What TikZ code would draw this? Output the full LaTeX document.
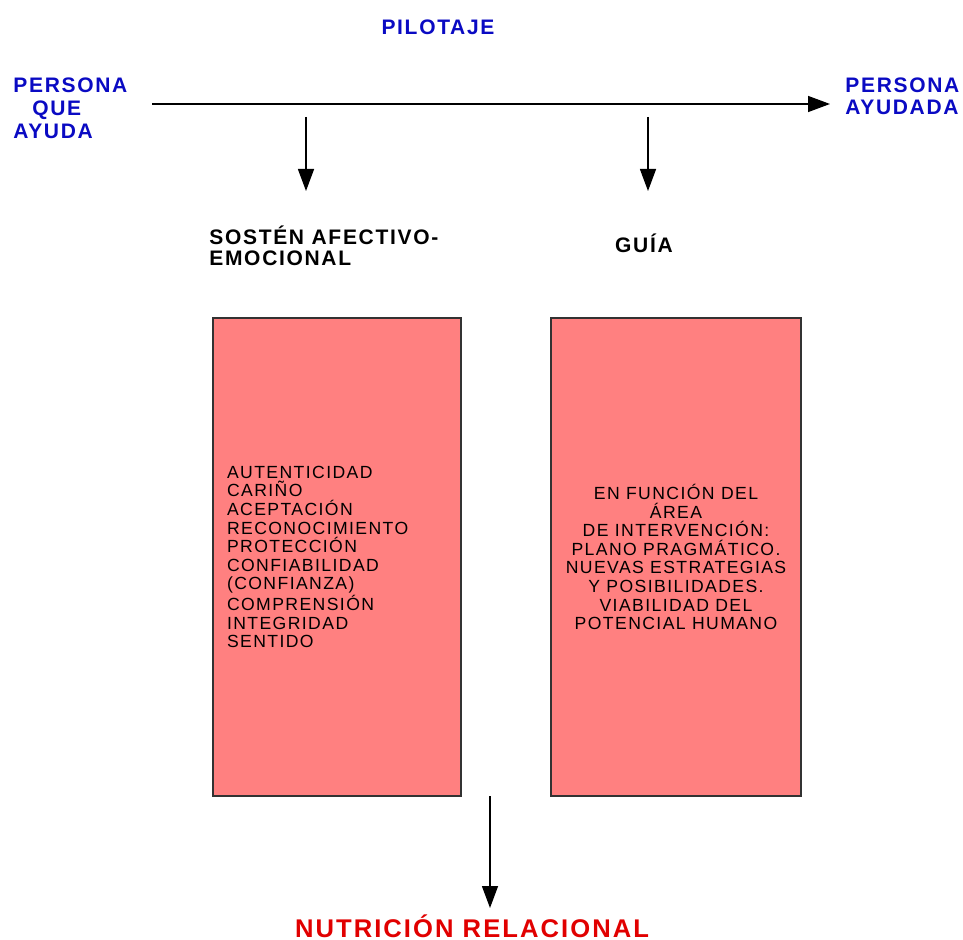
\documentclass[tikz,border=0pt]{standalone}
\usepackage{fontspec}
\setmainfont{Liberation Sans}[LetterSpace=8]
\usetikzlibrary{arrows.meta,positioning}

\definecolor{azul}{RGB}{10,10,195}
\definecolor{rojo}{RGB}{225,0,0}
\definecolor{rosa}{RGB}{255,128,128}
\definecolor{borde}{RGB}{50,50,50}

\begin{document}
\begin{tikzpicture}[
  x=0.5pt, y=-0.5pt,
  titulo/.style={font=\fontsize{10.5}{11.5}\selectfont\bfseries, text=azul, inner sep=0pt},
  rama/.style={font=\fontsize{10.5}{10.5}\selectfont\bfseries, inner sep=0pt},
  caja/.style={draw=borde, line width=0.6pt, fill=rosa, minimum width=124pt,
               minimum height=239pt, font=\fontsize{8.8}{9.3}\selectfont},
  arr/.style={-{Triangle[length=11pt,width=8pt]}, line width=0.7pt},
]
\useasboundingbox (0,0) rectangle (963,940);

% Eje superior
\node[titulo] (pilotaje) at (438,27) {PILOTAJE};
\node[titulo, align=left, anchor=west] (ayuda) at (13,108)
  {PERSONA\\\hspace*{9.5pt}QUE\\AYUDA};
\node[titulo, align=left, anchor=west, font=\fontsize{10.5}{11}\selectfont\bfseries] (ayudada) at (845,96)
  {PERSONA\\AYUDADA};

\coordinate (eje-a) at (152,104);
\coordinate (eje-b) at (830,104);
\draw[arr] (eje-a) -- (eje-b);

% Dos ramas
\node[rama, align=left, anchor=west] (sosten) at (209,245.5) {SOSTÉN AFECTIVO-\\EMOCIONAL};
\node[rama] (guia) at (644,243) {GUÍA};

\coordinate (ba) at (306,117);
\coordinate (bb) at (648,117);
\draw[arr] (ba) -- (306,191);
\draw[arr] (bb) -- (648,191);

% Cajas
\node[caja, text width=110pt, inner xsep=7pt, align=left] (afectivo) at (337,557)
  {AUTENTICIDAD\\CARIÑO\\ACEPTACIÓN\\RECONOCIMIENTO\\PROTECCIÓN\\CONFIABILIDAD\\(CONFIANZA)\\COMPRENSIÓN\\INTEGRIDAD\\SENTIDO};
\node[caja, minimum width=125pt, align=center] (pragma) at (676,557)
  {EN FUNCIÓN DEL\\ÁREA\\DE INTERVENCIÓN:\\PLANO PRAGMÁTICO.\\NUEVAS ESTRATEGIAS\\Y POSIBILIDADES.\\VIABILIDAD DEL\\POTENCIAL HUMANO};

% Resultado
\node[font=\fontsize{12.8}{14}\selectfont\bfseries, text=rojo, inner sep=0pt, anchor=base] (nutricion) at (472,937)
  {NUTRICIÓN RELACIONAL};
\coordinate (union) at (490,796);
\draw[arr] (union) -- (490,908);
\end{tikzpicture}
\end{document}
